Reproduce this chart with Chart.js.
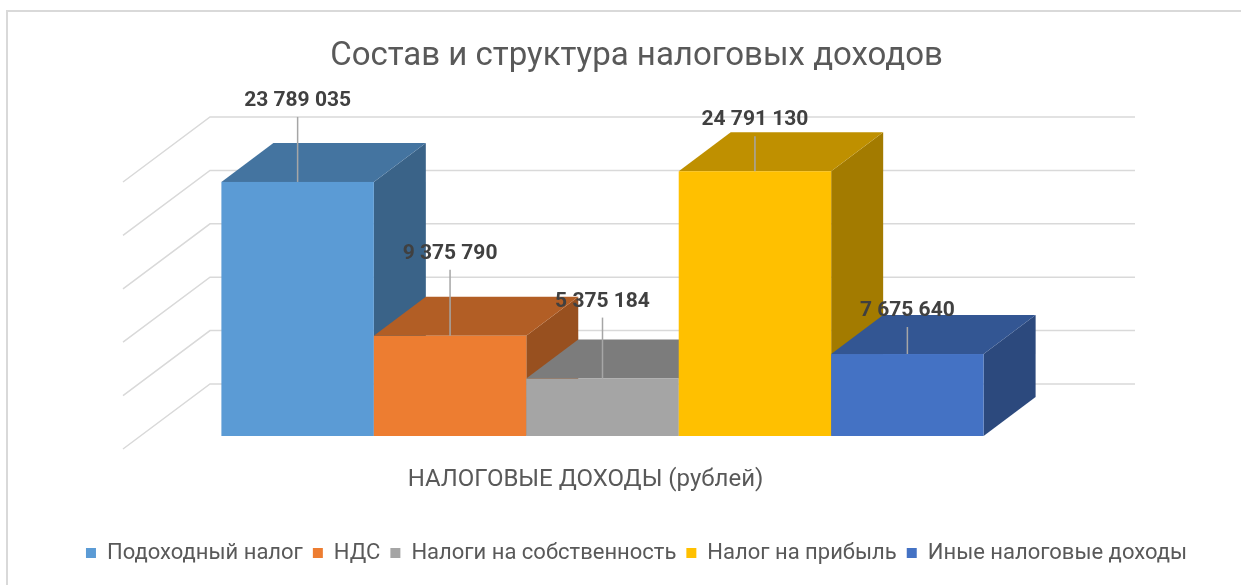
<!DOCTYPE html>
<html>
<head>
<meta charset="utf-8">
<script src="https://cdn.jsdelivr.net/npm/chart.js@4.4.0/dist/chart.umd.min.js"></script>
<style>
  html, body { margin: 0; padding: 0; background: #fff; }
  #wrap { width: 1241px; height: 585px; }
</style>
</head>
<body>
<div id="wrap"><canvas id="chart" width="1241" height="585"></canvas></div>
<script>
const categories = ['НАЛОГОВЫЕ ДОХОДЫ (рублей)']
const seriesNames = ['Подоходный налог', 'НДС', 'Налоги на собственность', 'Налог на прибыль', 'Иные налоговые доходы']
const seriesValues = [23789035, 9375790, 5375184, 24791130, 7675640]
const seriesColors = ['#5B9BD5', '#ED7D31', '#A5A5A5', '#FFC000', '#4472C4']
const yTicks = [0, 5000000, 10000000, 15000000, 20000000, 25000000]

const FONT = 'Roboto'

// 23789035 -> "23 789 035"
const fmt = (n) => String(n).replace(/\B(?=(\d{3})+(?!\d))/g, ' ')

// darker face of a 3d bar
function shade (hex, k) {
  const n = parseInt(hex.slice(1), 16)
  const r = Math.round(((n >> 16) & 255) * k)
  const g = Math.round(((n >> 8) & 255) * k)
  const b = Math.round((n & 255) * k)
  return `rgb(${r},${g},${b})`
}

const bars3d = {
  id: 'bars3d',
  beforeDraw (chart) {
    // chart frame, only top and left edges are in the picture
    const { ctx } = chart
    ctx.save()
    ctx.strokeStyle = '#D9D9D9'
    ctx.lineWidth = 2
    ctx.beginPath()
    ctx.moveTo(7, 585)
    ctx.lineTo(7, 11)
    ctx.lineTo(1241, 11)
    ctx.stroke()
    ctx.restore()
  },
  beforeDatasetsDraw (chart, args, opts) {
    const { ctx, chartArea: area, scales: { y } } = chart
    const wf = opts.wallFront
    const wb = opts.wallBack
    const d = opts.barDepth

    ctx.save()
    // side wall and back wall gridlines
    ctx.strokeStyle = '#D9D9D9'
    ctx.lineWidth = 1.5
    yTicks.forEach((v) => {
      const py = y.getPixelForValue(v)
      ctx.beginPath()
      ctx.moveTo(area.left + wf.dx, py + wf.dy)
      ctx.lineTo(area.left + wb.dx, py + wb.dy)
      ctx.lineTo(area.right + wb.dx, py + wb.dy)
      ctx.stroke()
    })

    // bars, left to right so the right one hides the side of the left one
    chart.data.datasets.forEach((ds, i) => {
      const bar = chart.getDatasetMeta(i).data[0]
      const l = bar.x - bar.width / 2
      const r = bar.x + bar.width / 2
      const t = bar.y
      const b = bar.base
      const c = ds.backgroundColor

      ctx.fillStyle = shade(c, 0.64)
      ctx.beginPath()
      ctx.moveTo(r, t)
      ctx.lineTo(r + d.dx, t + d.dy)
      ctx.lineTo(r + d.dx, b + d.dy)
      ctx.lineTo(r, b)
      ctx.closePath()
      ctx.fill()

      ctx.fillStyle = shade(c, 0.75)
      ctx.beginPath()
      ctx.moveTo(l, t)
      ctx.lineTo(r, t)
      ctx.lineTo(r + d.dx, t + d.dy)
      ctx.lineTo(l + d.dx, t + d.dy)
      ctx.closePath()
      ctx.fill()

      ctx.fillStyle = c
      ctx.fillRect(l, t, r - l, b - t)
    })

    // data labels with leader lines
    ctx.font = `bold 21px ${FONT}`
    ctx.textAlign = 'center'
    ctx.textBaseline = 'middle'
    chart.data.datasets.forEach((ds, i) => {
      const bar = chart.getDatasetMeta(i).data[0]
      const ly = bar.y - opts.labelLift[i]
      ctx.strokeStyle = '#A6A6A6'
      ctx.lineWidth = 1.5
      ctx.beginPath()
      ctx.moveTo(bar.x, ly + 16)
      ctx.lineTo(bar.x, bar.y)
      ctx.stroke()
      ctx.fillStyle = '#404040'
      ctx.fillText(fmt(ds.data[0]), bar.x, ly)
    })
    ctx.restore()
    return false
  },
  afterDraw (chart, args, opts) {
    const { ctx, chartArea: area } = chart
    ctx.save()
    ctx.font = `24px ${FONT}`
    ctx.fillStyle = '#595959'
    ctx.textAlign = 'center'
    ctx.textBaseline = 'middle'
    ctx.fillText(chart.data.labels[0], (area.left + area.right) / 2 + opts.wallFront.dx, 480)
    ctx.restore()
  }
}

Chart.defaults.font.family = FONT

new Chart(document.getElementById('chart'), {
  type: 'bar',
  data: {
    labels: categories,
    datasets: seriesNames.map((name, i) => ({
      label: name,
      data: [seriesValues[i]],
      backgroundColor: seriesColors[i],
      borderWidth: 0
    }))
  },
  options: {
    responsive: false,
    animation: false,
    layout: { padding: { left: 32, right: 0, top: 0, bottom: 11 } },
    datasets: { bar: { barPercentage: 1, categoryPercentage: 0.824 } },
    scales: {
      x: {
        display: true,
        grid: { display: false },
        border: { display: false },
        ticks: { display: false },
        afterFit: (s) => { s.height = 96 }
      },
      y: {
        min: yTicks[0],
        max: yTicks[yTicks.length - 1],
        ticks: { display: false, stepSize: yTicks[1] - yTicks[0] },
        grid: { display: false },
        border: { display: false },
        afterFit: (s) => { s.width = 108 }
      },
      y2: {
        position: 'right',
        display: true,
        min: 0,
        max: 1,
        ticks: { display: false },
        grid: { display: false },
        border: { display: false },
        afterFit: (s) => { s.width = 176 }
      }
    },
    plugins: {
      title: {
        display: true,
        text: 'Состав и структура налоговых доходов',
        color: '#595959',
        font: { size: 33, weight: 'normal' },
        padding: { top: 37.2, bottom: 92.2 }
      },
      legend: {
        position: 'bottom',
        labels: {
          boxWidth: 10,
          boxHeight: 10,
          padding: 10,
          color: '#595959',
          font: { size: 22 }
        }
      },
      tooltip: { enabled: false },
      bars3d: {
        wallFront: { dx: -17, dy: 13 },
        wallBack: { dx: 70, dy: -52 },
        barDepth: { dx: 52, dy: -39 },
        labelLift: [81, 82, 77, 51, 43]
      }
    }
  },
  plugins: [bars3d]
})
</script>
</body>
</html>
